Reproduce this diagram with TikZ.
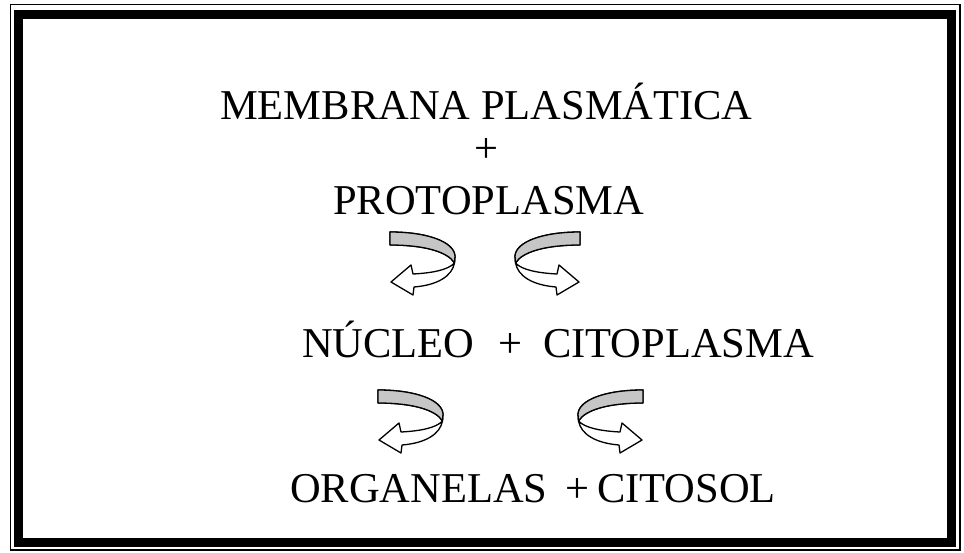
\documentclass[tikz,border=0pt]{standalone}
\usepackage{fontspec}
\setmainfont{Liberation Serif}
\usetikzlibrary{positioning}
\tikzset{
every node/.style={inner sep=0pt, font=\fontsize{42.5}{50}\selectfont}, % all the words use the same size
term/.style={anchor=base west}, % words are placed by their baseline
twist/.style={line width=1.3pt, line join=round}, % outline of the turning arrows
uturn/.pic={ % ribbon that turns back, tip on the left
  \draw[twist, fill=white]
    (0,0) .. controls (38,0) and (64,10) .. (65,24)
    -- (64.5,31) .. controls (62,44) and (48,53) .. (24,55)
    -- (23,63) -- (1,50) -- (21,33) -- (23,42)
    .. controls (42,41) and (58,38) .. (64.5,31)
    .. controls (58,20) and (35,13) .. (0,13) -- cycle;
  \draw[twist, fill=gray!45]
    (0,0) .. controls (38,0) and (64,10) .. (65,24)
    -- (64.5,31) .. controls (58,20) and (35,13) .. (0,13) -- cycle;
},
}

\begin{document}
\begin{tikzpicture}[x=1pt, y=-1pt]
    \useasboundingbox (0,0) rectangle (964,552);
    % frame
    \draw[line width=1.5pt] (10.5,4.5) rectangle (960,550);
    \draw[line width=9pt] (18,14.5) rectangle (951.5,542.5);

    \node[term] (mem) at (220,119) {MEMBRANA PLASMÁTICA};
    \node[anchor=base] (plus1) at (486,162) {+};
    \node[term] (proto) at (333,214) {PROTOPLASMA};

    \node[term] (nucleo) at (302,357) {NÚCLEO};
    \node[anchor=base] (plus2) at (510,357) {+};
    \node[term] (cito) at (543,357) {CITOPLASMA};

    \node[term] (organ) at (290,502) {ORGANELAS};
    \node[anchor=base] (plus3) at (577,502) {+};
    \node[term] (citosol) at (597,502) {CITOSOL};

    \pic at (390,232) {uturn};
    \pic[xscale=-1] at (580,232) {uturn};
    \pic at (378,390) {uturn};
    \pic[xscale=-1] at (643,390) {uturn};
\end{tikzpicture}
\end{document}
